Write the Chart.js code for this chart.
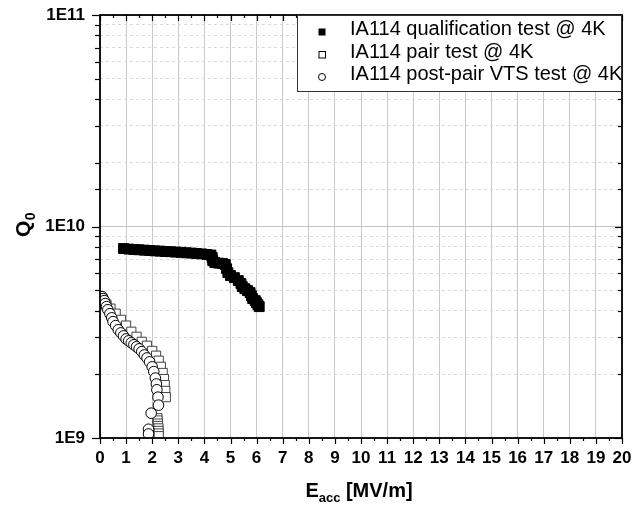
<!DOCTYPE html>
<html>
<head>
<meta charset="utf-8">
<script src="https://cdn.jsdelivr.net/npm/chart.js@4.4.1/dist/chart.umd.min.js"></script>
<style>
html, body { margin: 0; padding: 0; background: #fff; }
</style>
</head>
<body>
<canvas id="chart" width="642" height="506"></canvas>
<script>
// Q0 vs Eacc, IA114 cavity, three tests at 4K
var seriesNames = ['IA114 qualification test @ 4K', 'IA114 pair test @ 4K', 'IA114 post-pair VTS test @ 4K'];

var qualE = [0.9, 1.1, 1.3, 1.5, 1.7, 1.9, 2.1, 2.3, 2.5, 2.7, 2.9, 3.1, 3.3, 3.5, 3.7, 3.9, 4.1, 4.25,
  4.3, 4.32, 4.4, 4.55, 4.7, 4.8,
  4.85, 4.9, 5.0, 5.15, 5.3, 5.4,
  5.45, 5.55, 5.65, 5.75,
  5.8, 5.85, 5.95,
  6.0, 6.05, 6.1];
var qualQ = [7.87e9, 7.82e9, 7.78e9, 7.76e9, 7.73e9, 7.70e9, 7.67e9, 7.65e9, 7.61e9, 7.60e9, 7.57e9, 7.55e9, 7.51e9, 7.49e9, 7.45e9, 7.42e9, 7.37e9, 7.33e9,
  7.13e9, 6.90e9, 6.75e9, 6.71e9, 6.68e9, 6.61e9,
  6.32e9, 6.05e9, 5.86e9, 5.73e9, 5.55e9, 5.37e9,
  5.20e9, 5.08e9, 4.98e9, 4.87e9,
  4.71e9, 4.56e9, 4.46e9,
  4.36e9, 4.27e9, 4.18e9];

var pairE = [0.1, 0.25, 0.4, 0.6, 0.8, 1.0, 1.2, 1.4, 1.6, 1.8, 2.0, 2.15, 2.25, 2.33, 2.4, 2.45, 2.48, 2.5, 2.52,
  2.2, 2.2, 2.22, 2.22, 2.24, 2.24, 2.25, 2.25];
var pairQ = [4.51e9, 4.27e9, 4.09e9, 3.87e9, 3.62e9, 3.40e9, 3.18e9, 3.01e9, 2.85e9, 2.73e9, 2.58e9, 2.45e9, 2.32e9, 2.17e9, 2.03e9, 1.90e9, 1.78e9, 1.67e9, 1.56e9,
  1.24e9, 1.21e9, 1.17e9, 1.14e9, 1.11e9, 1.08e9, 1.05e9, 1.02e9];

var vtsE = [0.08, 0.12, 0.16, 0.2, 0.25, 0.3, 0.38, 0.45, 0.5, 0.6, 0.7, 0.8, 0.9, 1.0, 1.1, 1.2, 1.3, 1.4, 1.5, 1.6, 1.7, 1.8, 1.9, 2.0,
  2.06, 2.12, 2.16, 2.18, 2.22, 2.24, 1.96, 1.86, 1.86];
var vtsQ = [4.66e9, 4.56e9, 4.46e9, 4.32e9, 4.18e9, 4.04e9, 3.87e9, 3.70e9, 3.55e9, 3.40e9, 3.25e9, 3.14e9, 3.04e9, 2.94e9, 2.88e9, 2.82e9, 2.76e9, 2.70e9, 2.64e9, 2.56e9, 2.47e9, 2.39e9, 2.29e9, 2.17e9,
  2.06e9, 1.92e9, 1.80e9, 1.69e9, 1.56e9, 1.43e9, 1.31e9, 1.10e9, 1.045e9];

var yTickExps = [9, 10, 11];
var yTickLabels = ['1E9', '1E10', '1E11'];

var FONT = '"Liberation Sans", Arial, sans-serif';

function toPoints(xs, ys) {
  var out = [];
  for (var i = 0; i < xs.length; i++) out.push({ x: xs[i], y: ys[i] });
  return out;
}

function isPow10(v) {
  var e = Math.log10(v);
  return Math.abs(e - Math.round(e)) < 1e-6;
}

// box, tick marks, legend and axis titles
var framePlugin = {
  id: 'frame',
  afterDraw: function(chart) {
    var ctx = chart.ctx, a = chart.chartArea;
    var xs = chart.scales.x, ys = chart.scales.y;
    function line(x1, y1, x2, y2) {
      ctx.beginPath(); ctx.moveTo(x1, y1); ctx.lineTo(x2, y2); ctx.stroke();
    }
    ctx.save();
    ctx.strokeStyle = '#000';
    ctx.lineWidth = 1.2;
    for (var v = xs.min; v <= xs.max + 1e-9; v += 0.5) {
      var px = Math.round(xs.getPixelForValue(v)) + 0.5;
      var len = Math.abs(v - Math.round(v)) < 1e-9 ? 6 : 3;
      line(px, a.bottom, px, a.bottom + len);
      line(px, a.top, px, a.top + len);
    }
    ys.ticks.forEach(function(t) {
      var py = Math.round(ys.getPixelForValue(t.value)) + 0.5;
      var major = isPow10(t.value);
      line(a.left - (major ? 8 : 5), py, a.left, py);
      line(a.right - (major ? 7 : 4), py, a.right, py);
    });
    ctx.lineWidth = 1.8;
    ctx.strokeRect(a.left, a.top, a.right - a.left, a.bottom - a.top);

    // legend
    var lx = 297, ly = a.top, lw = a.right - lx, lh = 77;
    ctx.fillStyle = '#fff';
    ctx.fillRect(lx, ly, lw, lh);
    ctx.strokeStyle = '#333';
    ctx.lineWidth = 1;
    ctx.strokeRect(lx + 0.5, ly + 0.5, lw - 1, lh - 1);
    var baselines = [35, 57.5, 80];
    ctx.font = '20px ' + FONT;
    ctx.textAlign = 'left';
    ctx.textBaseline = 'alphabetic';
    for (var i = 0; i < seriesNames.length; i++) {
      var cx = 322, cy = baselines[i] - 3;
      ctx.lineWidth = 1;
      ctx.strokeStyle = '#000';
      if (i === 0) {
        ctx.fillStyle = '#000';
        ctx.fillRect(cx - 3.5, cy - 3.5, 7, 7);
      } else if (i === 1) {
        ctx.strokeRect(cx - 3, cy - 3, 6.5, 6.5);
      } else {
        ctx.beginPath(); ctx.arc(cx, cy, 3.5, 0, Math.PI * 2); ctx.stroke();
      }
      ctx.fillStyle = '#000';
      ctx.fillText(seriesNames[i], 350, baselines[i]);
    }

    // y title Q0
    ctx.save();
    ctx.translate(30, 237);
    ctx.rotate(-Math.PI / 2);
    ctx.font = 'bold 21px ' + FONT;
    ctx.fillText('Q', 0, 0);
    var wq = ctx.measureText('Q').width;
    ctx.font = 'bold 14px ' + FONT;
    ctx.fillText('0', wq + 0.5, 5);
    ctx.restore();

    // x title Eacc [MV/m]
    ctx.font = 'bold 20px ' + FONT;
    var wE = ctx.measureText('E').width;
    var wRest = ctx.measureText(' [MV/m]').width;
    ctx.font = 'bold 13px ' + FONT;
    var wSub = ctx.measureText('acc').width;
    var x0 = (a.left + a.right) / 2 - (wE + wSub + wRest) / 2 - 2;
    var by = 497;
    ctx.font = 'bold 20px ' + FONT;
    ctx.fillText('E', x0, by);
    ctx.font = 'bold 13px ' + FONT;
    ctx.fillText('acc', x0 + wE, by + 5);
    ctx.font = 'bold 20px ' + FONT;
    ctx.fillText(' [MV/m]', x0 + wE + wSub, by);
    ctx.restore();
  }
};

var ctx = document.getElementById('chart').getContext('2d');
var chart = new Chart(ctx, {
  type: 'scatter',
  data: {
    datasets: [{
      label: seriesNames[0],
      data: toPoints(qualE, qualQ),
      pointStyle: 'rect',
      pointRadius: 7,
      backgroundColor: '#000',
      borderColor: '#000',
      borderWidth: 1,
      order: 0
    }, {
      label: seriesNames[1],
      data: toPoints(pairE, pairQ),
      pointStyle: 'rect',
      pointRadius: 6.5,
      backgroundColor: '#fff',
      borderColor: '#444',
      borderWidth: 1,
      order: 2
    }, {
      label: seriesNames[2],
      data: toPoints(vtsE, vtsQ),
      pointStyle: 'circle',
      pointRadius: 5.3,
      backgroundColor: '#fff',
      borderColor: '#000',
      borderWidth: 1,
      order: 1
    }]
  },
  options: {
    responsive: false,
    animation: false,
    devicePixelRatio: 1,
    layout: { padding: { left: 0, top: 15, right: 20, bottom: 0 } },
    plugins: {
      legend: { display: false },
      tooltip: { enabled: false }
    },
    scales: {
      x: {
        type: 'linear',
        min: 0,
        max: 20,
        afterFit: function(scale) {
          scale.height = 68;
          scale.paddingLeft = 0;
          scale.paddingRight = 0;
        },
        grid: { color: '#c8c8c8', lineWidth: 1, drawTicks: false },
        border: { display: false },
        ticks: {
          stepSize: 1,
          autoSkip: false,
          maxRotation: 0,
          padding: 10,
          color: '#000',
          font: { family: FONT, size: 17, weight: 'bold' }
        }
      },
      y: {
        type: 'logarithmic',
        min: 1e9,
        max: 1e11,
        afterFit: function(scale) {
          scale.width = 100;
          scale.paddingTop = 0;
          scale.paddingBottom = 0;
        },
        grid: {
          drawTicks: false,
          lineWidth: 1,
          color: function(c) {
            return c.tick && isPow10(c.tick.value) ? '#c4c4c4' : '#dadada';
          }
        },
        border: {
          display: false,
          dash: function(c) {
            return c.tick && !isPow10(c.tick.value) ? [3, 3] : [];
          }
        },
        ticks: {
          autoSkip: false,
          padding: 15,
          color: '#000',
          font: { family: FONT, size: 17, weight: 'bold' },
          callback: function(value) {
            if (!isPow10(value)) return '';
            var k = yTickExps.indexOf(Math.round(Math.log10(value)));
            return k >= 0 ? yTickLabels[k] : '';
          }
        }
      }
    }
  },
  plugins: [framePlugin]
});
</script>
</body>
</html>
